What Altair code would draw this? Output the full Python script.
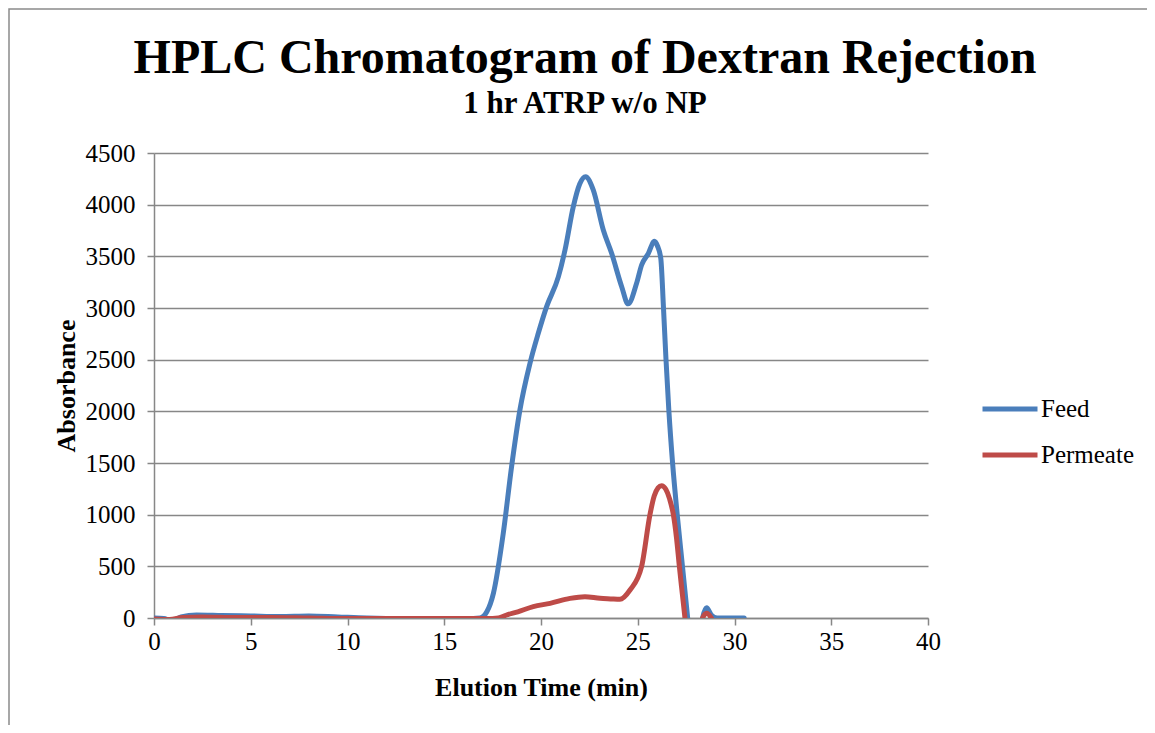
import altair as alt
import pandas as pd

# ---- data ----
feed_time = [0, 0.5, 0.9, 1.4, 2.2, 3.5, 5, 6.5, 8, 9.5, 11, 13, 15, 16.5, 16.85, 17.2,
             17.54, 18.05, 18.48, 18.91, 19.43, 19.86, 20.29, 20.9, 21.24, 21.67, 22.0,
             22.3, 22.7, 23.22, 23.65, 24.17, 24.5, 24.94, 25.2, 25.55, 25.86, 26.02,
             26.19, 26.33, 26.46, 26.61, 26.80, 27.04, 27.31, 27.58, 27.85, 28.1, 28.35,
             28.56, 28.8, 29.1, 29.6, 30.5]
feed_abs = [0, -5, -25, 10, 30, 25, 20, 15, 20, 10, 0, -5, -5, -5, 0, 60,
            239, 820, 1465, 2013, 2465, 2755, 3013, 3303, 3561, 3981, 4200,
            4270, 4142, 3755, 3529, 3206, 3040, 3239, 3416, 3529, 3645, 3600,
            3480, 3000, 2500, 2000, 1500, 1000, 500, 0, -500, -400, 0,
            100, 30, 0, 0, 0]

perm_time = [0, 0.8, 1.5, 2.5, 4, 6, 8, 10, 12, 14, 16, 17.2, 17.8, 18.22, 18.8, 19.6,
             20.47, 21.5, 22.27, 23.05, 23.6, 24.08, 24.6, 25.2, 25.63, 25.85, 26.05,
             26.23, 26.45, 26.65, 26.84, 27.0, 27.15, 27.3, 27.44, 27.7, 28.1, 28.35,
             28.56, 28.8, 29.0]
perm_abs = [-10, -15, 5, 10, 5, 5, 0, -5, -5, -5, -5, -5, 0, 29, 60, 110,
            142, 190, 206, 190, 185, 181, 271, 500, 1000, 1180, 1260,
            1280, 1245, 1150, 1000, 780, 500, 240, 0, -500, -400, 0,
            45, 0, -80]

series_names = ["Feed", "Permeate"]
series_colors = ["#4A7EBB", "#BE4B48"]
x_ticks = [0, 5, 10, 15, 20, 25, 30, 35, 40]
y_ticks = [0, 500, 1000, 1500, 2000, 2500, 3000, 3500, 4000, 4500]
title_text = "HPLC Chromatogram of Dextran Rejection"
subtitle_text = "1 hr ATRP w/o NP"

df = pd.concat([
    pd.DataFrame({"t": feed_time, "a": feed_abs, "s": "Feed", "o": 0}),
    pd.DataFrame({"t": perm_time, "a": perm_abs, "s": "Permeate", "o": 1}),
], ignore_index=True)

FONT = "Liberation Serif"
GRID = "#878787"

lines = alt.Chart(df).mark_line(
    strokeWidth=5, interpolate="monotone", clip=True, strokeCap="round", strokeJoin="round"
).encode(
    x=alt.X("t:Q", scale=alt.Scale(domain=[0, 40], nice=False),
            axis=alt.Axis(values=x_ticks, title="Elution Time (min)", grid=False,
                          domainColor=GRID, tickColor=GRID, tickSize=7, domainWidth=1.5,
                          tickWidth=1.5, labelPadding=4, titlePadding=20, labelFlush=False,
                          format="d")),
    y=alt.Y("a:Q", scale=alt.Scale(domain=[0, 4500], nice=False),
            axis=alt.Axis(values=y_ticks, title="Absorbance", grid=True, gridColor=GRID,
                          gridWidth=1.5, domainColor=GRID, tickColor=GRID, tickSize=7,
                          domainWidth=1.5, tickWidth=1.5, labelPadding=12, titlePadding=6,
                          format="d", labelFlush=False)),
    color=alt.Color("s:N", scale=alt.Scale(domain=series_names, range=series_colors),
                    legend=alt.Legend(title=None, orient="none", legendX=826, legendY=226,
                                      symbolType="stroke", symbolSize=3025,
                                      symbolStrokeWidth=5, labelFontSize=25, labelFont=FONT,
                                      labelColor="black", rowPadding=3, padding=0,
                                      labelOffset=1)),
    order="o:Q",
    detail="s:N",
)

border = alt.Chart(pd.DataFrame({"k": [0]})).mark_rect(
    fill=None, stroke="#8a8a8a", strokeWidth=1.5
).encode(x=alt.value(-145), x2=alt.value(2000), y=alt.value(-144), y2=alt.value(800))

title = alt.Chart(pd.DataFrame({"label": [title_text]})).mark_text(
    font=FONT, fontSize=48, fontWeight="bold", color="black", align="center",
    baseline="alphabetic"
).encode(text="label:N", x=alt.value(431), y=alt.value(-80))

subtitle = alt.Chart(pd.DataFrame({"label": [subtitle_text]})).mark_text(
    font=FONT, fontSize=31, fontWeight="bold", color="black", align="center",
    baseline="alphabetic"
).encode(text="label:N", x=alt.value(431), y=alt.value(-40))

chart = alt.layer(border, title, subtitle, lines).properties(
    width=774, height=465,
    autosize=alt.AutoSizeParams(type="none"),
    padding={"left": 146, "top": 145, "right": 219, "bottom": 107},
).configure_view(stroke=None).configure_axis(
    labelFont=FONT, labelFontSize=25, labelColor="black",
    titleFont=FONT, titleFontSize=26, titleFontWeight="bold", titleColor="black",
)

chart.save("out.html", embed_options={"renderer": "svg", "actions": False})
